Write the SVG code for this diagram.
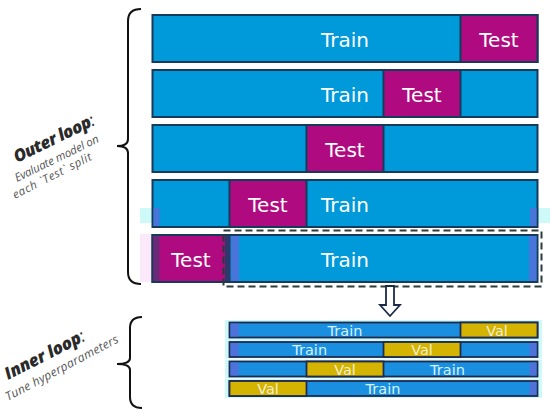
<svg xmlns="http://www.w3.org/2000/svg" width="550" height="413" viewBox="0 0 550 413">
<style>
.train{fill:#0099da;stroke:#163a5a;stroke-width:2}
.test{fill:#b00a80;stroke:#163a5a;stroke-width:2}
.t{font-family:"DejaVu Sans",Verdana,sans-serif;fill:#fff;text-anchor:middle}
.ot{font-size:20px}
.it{font-size:14.5px}
.itr{fill:#1b8fdf;stroke:#1e2a50;stroke-width:1.8}
.val{fill:#d4b400;stroke:#1e2a50;stroke-width:1.8}
.tc{fill:#d5f3ff}
.vc{fill:#f3eed0}
.glow{fill:#cdf9f9}
.vi{fill:#5b6ad8;opacity:0.8}
.brace{fill:none;stroke:#111;stroke-width:2}
.lab{font-family:"Open Sans",sans-serif;font-style:italic}
.lb{font-weight:800;font-size:17px;fill:#2a2a2a}
.ls{font-size:11.5px;fill:#555}
.ls2{font-size:12px;fill:#555}
</style>
<rect width="550" height="413" fill="#fff"/>

<!-- faint background artifacts -->
<rect class="glow" x="140" y="208" width="410" height="15"/>
<rect x="140" y="234" width="13" height="48" fill="#fbe8f8"/>
<rect class="glow" x="225" y="320" width="317" height="20"/>
<rect class="glow" x="225" y="340" width="317" height="18.5"/>
<rect class="glow" x="225" y="359.5" width="317" height="19"/>
<rect class="glow" x="225" y="379" width="317" height="19"/>

<g id="outer-brace"><path class="brace" d="M141,9 Q128,9 128,21 L128,139 Q128,146 117,146 Q128,146 128,153 L128,272 Q128,284 141,284"/></g>
<g id="inner-brace"><path class="brace" d="M142,317 Q130,317 130,328 L130,358 Q130,364 117,364 Q130,364 130,370 L130,397 Q130,408 142,408"/></g>

<g id="outer-label">
<text class="lab lb" transform="translate(17,163) rotate(-26)" textLength="88">Outer loop<tspan font-weight="400">:</tspan></text>
<text class="lab ls" transform="translate(17,182) rotate(-26)" textLength="92">Evaluate model on</text>
<text class="lab ls" transform="translate(15,199) rotate(-27)" textLength="87">each `Test` split</text>
</g>
<g id="inner-label">
<text class="lab lb" transform="translate(8,380) rotate(-27)" textLength="88">Inner loop<tspan font-weight="400">:</tspan></text>
<text class="lab ls2" transform="translate(8,401) rotate(-28)" textLength="126">Tune hyperparameters</text>
</g>

<g id="outer-1">
<rect class="train" x="152.5" y="15" width="385" height="47"/>
<rect class="test" x="460.5" y="15" width="77" height="47"/>
<text class="t ot" x="345" y="47">Train</text>
<text class="t ot" x="499" y="47">Test</text>
</g>
<g id="outer-2">
<rect class="train" x="152.5" y="70" width="385" height="47"/>
<rect class="test" x="383.5" y="70" width="77" height="47"/>
<text class="t ot" x="345" y="102">Train</text>
<text class="t ot" x="422" y="102">Test</text>
</g>
<g id="outer-3">
<rect class="train" x="152.5" y="125" width="385" height="47"/>
<rect class="test" x="306.5" y="125" width="77" height="47"/>
<text class="t ot" x="345" y="157">Test</text>
</g>
<g id="outer-4">
<rect class="train" x="152.5" y="180" width="385" height="47"/>
<rect class="test" x="229.5" y="180" width="77" height="47"/>
<rect class="vi" x="153.5" y="208" width="6" height="18"/>
<rect class="vi" x="530" y="208" width="6.5" height="18"/>
<text class="t ot" x="268" y="212">Test</text>
<text class="t ot" x="345" y="212">Train</text>
</g>
<g id="outer-5">
<rect class="train" x="152.5" y="235" width="385" height="47"/>
<rect class="test" x="152.5" y="235" width="77" height="47"/>
<rect x="153.5" y="236" width="6" height="45" fill="#6a2a78"/>
<rect x="225" y="236" width="5" height="45" fill="#2a3a6a"/>
<rect class="vi" x="231" y="236" width="8" height="45"/>
<rect class="vi" x="529" y="236" width="7.5" height="45"/>
<text class="t ot" x="191" y="267">Test</text>
<text class="t ot" x="345" y="267">Train</text>
</g>

<g id="inner-1">
<rect class="itr" x="229.5" y="322.5" width="308" height="15"/>
<rect class="val" x="460.5" y="322.5" width="77" height="15"/>
<rect class="vi" x="230.5" y="323.5" width="8" height="13"/>
<text class="t it tc" x="345" y="335.5">Train</text>
<text class="t it vc" x="497" y="335.5">Val</text>
</g>
<g id="inner-2">
<rect class="itr" x="229.5" y="342" width="308" height="15"/>
<rect class="val" x="383.5" y="342" width="77" height="15"/>
<rect class="vi" x="230.5" y="343" width="8" height="13"/>
<rect class="vi" x="529.5" y="343" width="7" height="13"/>
<text class="t it tc" x="309.7" y="355">Train</text>
<text class="t it vc" x="422" y="355">Val</text>
</g>
<g id="inner-3">
<rect class="itr" x="229.5" y="361.5" width="308" height="15"/>
<rect class="val" x="306.5" y="361.5" width="77" height="15"/>
<rect class="vi" x="230.5" y="362.5" width="8" height="13"/>
<rect class="vi" x="529.5" y="362.5" width="7" height="13"/>
<text class="t it vc" x="345" y="374.5">Val</text>
<text class="t it tc" x="447.5" y="374.5">Train</text>
</g>
<g id="inner-4">
<rect class="itr" x="229.5" y="381" width="308" height="15"/>
<rect class="val" x="229.5" y="381" width="77" height="15"/>
<rect class="vi" x="529.5" y="382" width="7" height="13"/>
<text class="t it vc" x="268" y="394">Val</text>
<text class="t it tc" x="383" y="394">Train</text>
</g>

<g id="connectors">
<rect x="223.5" y="230.5" width="318" height="56" fill="none" stroke="#2b3a3a" stroke-width="2" stroke-dasharray="7 4"/>
<polygon points="386,286 394,286 394,305 400,305 390,316 380,305 386,305" fill="#fff" stroke="#1a2a48" stroke-width="1.8" stroke-linejoin="miter"/>
</g>
</svg>
